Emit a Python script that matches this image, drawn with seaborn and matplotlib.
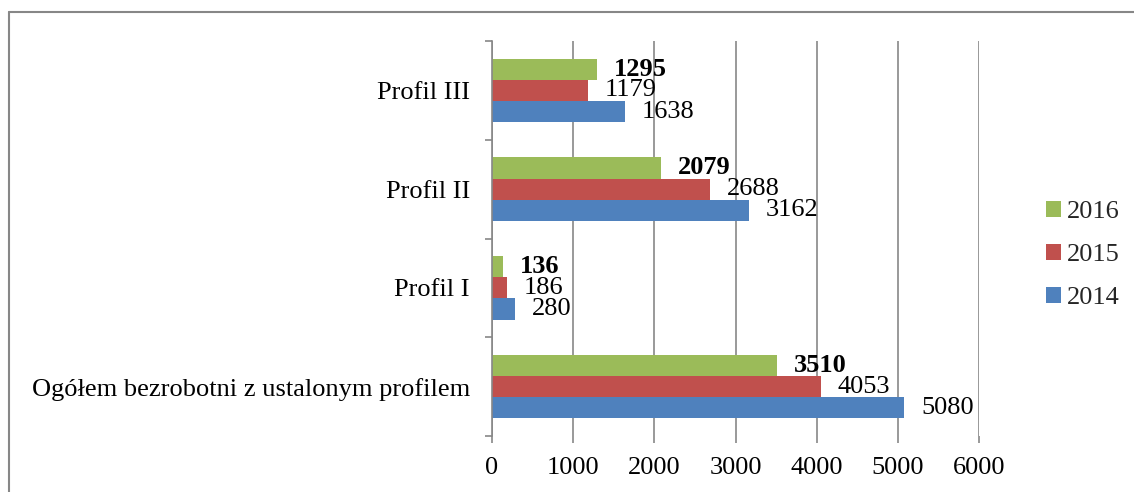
import matplotlib
matplotlib.use("Agg")
import matplotlib.pyplot as plt
from matplotlib.lines import Line2D
from matplotlib.ticker import FixedLocator
import seaborn as sns
import pandas as pd

# ---- data ----
categories = ["Ogółem bezrobotni z ustalonym profilem", "Profil I", "Profil II", "Profil III"]
years = ["2016", "2015", "2014"]
v2014 = [5080, 280, 3162, 1638]
v2015 = [4053, 186, 2688, 1179]
v2016 = [3510, 136, 2079, 1295]
xticks = [0, 1000, 2000, 3000, 4000, 5000, 6000]
colors = {"2014": "#4F81BD", "2015": "#C0504D", "2016": "#9BBB59"}

series = {"2014": v2014, "2015": v2015, "2016": v2016}
rows = []
for y in years:
    for c, v in zip(categories, series[y]):
        rows.append({"cat": c, "year": y, "value": v})
df = pd.DataFrame(rows)

sns.set_theme(style="white")
plt.rcParams['font.family'] = ['Liberation Serif', 'DejaVu Serif']
FS = 19
GRID = "#878787"

W, H = 1134, 492
fig = plt.figure(figsize=(W / 100, H / 100), dpi=100)
ax = fig.add_axes([492 / W, 1 - 436 / H, (979 - 492) / W, (436 - 41) / H])

sns.barplot(data=df, y="cat", x="value", hue="year", order=categories[::-1],
            hue_order=years, palette=colors, orient="h", width=0.645,
            saturation=1, linewidth=0, ax=ax, errorbar=None)

for cont, yr in zip(ax.containers, years):
    ax.bar_label(cont, labels=[f"{int(v)}" for v in cont.datavalues],
                 padding=12, fontsize=FS, color="black",
                 fontweight="bold" if yr == "2016" else "normal")

ax.set_xlim(0, 6000)
ax.set_xticks(xticks)
ax.set_xticklabels([str(t) for t in xticks], fontsize=FS, color="black")
ax.set_ylim(3.5, -0.5)
ax.yaxis.set_minor_locator(FixedLocator([-0.5, 0.5, 1.5, 2.5, 3.5]))
ax.tick_params(axis="y", which="major", length=0, pad=16, labelsize=FS, labelcolor="black")
ax.tick_params(axis="y", which="minor", length=5, width=1.2, color=GRID, direction="out", left=True)
ax.tick_params(axis="x", which="major", length=5, width=1.2, color=GRID, direction="out",
               bottom=True, pad=10)
ax.set_xlabel("")
ax.set_ylabel("")
ax.grid(axis="x", color=GRID, linewidth=1.2)
ax.set_axisbelow(True)
for s in ["top", "right", "bottom"]:
    ax.spines[s].set_visible(False)
ax.spines["left"].set_color(GRID)
ax.spines["left"].set_linewidth(1.2)

handles, labels = ax.get_legend_handles_labels()
if ax.legend_:
    ax.legend_.remove()
fig.legend(handles, labels, loc="center left", bbox_to_anchor=(1046 / W, 1 - 255 / H),
           frameon=False, fontsize=FS, handlelength=0.55, handleheight=0.55,
           handletextpad=0.25, labelspacing=0.78, borderpad=0, borderaxespad=0)

# outer frame of the chart area
fig.add_artist(Line2D([9 / W, 9 / W], [0, 1 - 12 / H], transform=fig.transFigure,
                      color=GRID, linewidth=1.5))
fig.add_artist(Line2D([9 / W, 1], [1 - 12 / H, 1 - 12 / H], transform=fig.transFigure,
                      color=GRID, linewidth=1.5))

fig.savefig("out.png", dpi=100)
